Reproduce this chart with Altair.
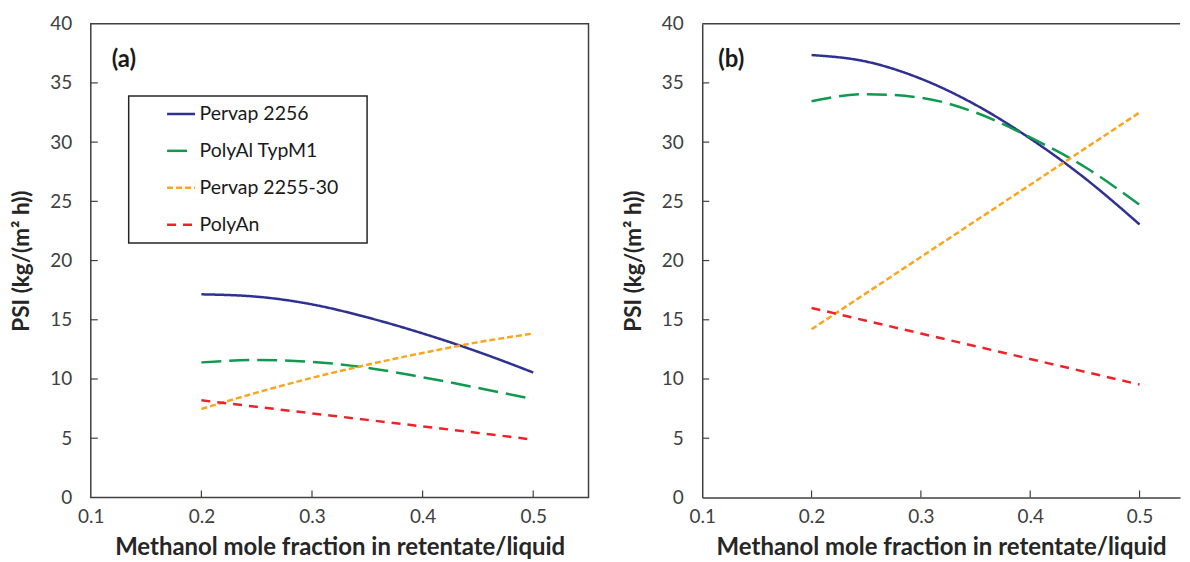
import altair as alt
import pandas as pd

# ---------------- data ----------------
x_vals = [0.2, 0.25, 0.3, 0.35, 0.4, 0.45, 0.5]
series = ["Pervap 2256", "PolyAl TypM1", "Pervap 2255-30", "PolyAn"]

a_pervap2256 = [17.15, 16.95, 16.3, 15.2, 13.85, 12.3, 10.55]
a_polyal = [11.4, 11.6, 11.45, 10.95, 10.15, 9.25, 8.3]
a_pervap225530 = [7.47, 8.85, 10.1, 11.2, 12.2, 13.1, 13.84]
a_polyan = [8.2, 7.65, 7.1, 6.55, 6.0, 5.45, 4.88]

b_pervap2256 = [37.35, 36.8, 35.35, 33.15, 30.3, 26.95, 23.05]
b_polyal = [33.45, 34.05, 33.75, 32.5, 30.4, 27.9, 24.7]
b_pervap225530 = [14.2, 17.25, 20.3, 23.35, 26.4, 29.45, 32.5]
b_polyan = [16.0, 14.92, 13.84, 12.77, 11.69, 10.61, 9.53]

x_ticks = [0.1, 0.2, 0.3, 0.4, 0.5]
y_ticks = [0, 5, 10, 15, 20, 25, 30, 35, 40]
panel_labels = ["(a)", "(b)"]

colors = ["#2E3192", "#0F9A4F", "#FBA51E", "#EE2229"]
dashes = [[1, 0], [20, 8], [6, 3], [9, 7]]

x_title = "Methanol mole fraction in retentate/liquid"
y_title = "PSI (kg/(m\u00b2 h))"

W_A, W_B, H = 499, 479, 475
FONT = "Lato"
FRAME = "#404040"


def panel_df(vals):
    rows = []
    for name, ys in zip(series, vals):
        for xv, yv in zip(x_vals, ys):
            rows.append({"series": name, "x": xv, "y": yv})
    return pd.DataFrame(rows)


df_a = panel_df([a_pervap2256, a_polyal, a_pervap225530, a_polyan])
df_b = panel_df([b_pervap2256, b_polyal, b_pervap225530, b_polyan])

xtick_df = pd.DataFrame({"x": x_ticks[1:]})
ytick_df = pd.DataFrame({"y": y_ticks[1:-1]})
one_df = pd.DataFrame({"k": [0]})


def make_panel(df, label, width, xmax, show_legend, label_x, framed):
    xenc = alt.X(
        "x:Q",
        scale=alt.Scale(domain=[0.1, xmax], nice=False, zero=False),
        axis=alt.Axis(values=x_ticks, format=".1f", ticks=False, tickSize=0,
                      grid=False, domain=not framed, domainColor=FRAME,
                      domainWidth=1.5, labelPadding=10, labelFlush=False,
                      title=x_title, titlePadding=9, titleFontSize=24),
    )
    yenc = alt.Y(
        "y:Q",
        scale=alt.Scale(domain=[0, 40], nice=False),
        axis=alt.Axis(values=y_ticks, ticks=False, tickSize=0, grid=False,
                      domain=not framed, domainColor=FRAME, domainWidth=1.5,
                      labelPadding=19, title=y_title, titlePadding=16,
                      titleFontSize=22.5),
    )
    if show_legend:
        leg = alt.Legend(
            orient="none", legendX=75, legendY=75, title=None,
            symbolType="stroke", symbolSize=784, symbolStrokeWidth=2.5,
            labelFont=FONT, labelFontSize=19.5, labelColor="#1a1a1a",
            labelOffset=3, rowPadding=12, padding=0, symbolOffset=0,
        )
    else:
        leg = None
    color = alt.Color("series:N", scale=alt.Scale(domain=series, range=colors),
                      legend=leg, sort=series)
    dash = alt.StrokeDash("series:N", scale=alt.Scale(domain=series, range=dashes),
                          legend=leg, sort=series)

    layers = []
    if show_legend:
        box = alt.Chart(one_df).mark_rect(
            fill="white", stroke="#262626", strokeWidth=1.5
        ).encode(x=alt.value(38), x2=alt.value(277), y=alt.value(72.5), y2=alt.value(220))
        layers.append(box)

    lines = alt.Chart(df).mark_line(interpolate="monotone", strokeWidth=2.5).encode(
        x=xenc, y=yenc, color=color, strokeDash=dash
    )
    xt = alt.Chart(xtick_df).mark_rule(color=FRAME, strokeWidth=1.2).encode(
        x="x:Q", y=alt.value(H), y2=alt.value(H - 7)
    )
    yt = alt.Chart(ytick_df).mark_rule(color=FRAME, strokeWidth=1.2).encode(
        y="y:Q", x=alt.value(0), x2=alt.value(7)
    )
    txt = alt.Chart(pd.DataFrame({"label": [label]})).mark_text(
        font=FONT, fontSize=24, fontWeight="bold", align="left",
        baseline="middle", color="#1a1a1a"
    ).encode(x=alt.value(label_x), y=alt.value(36), text="label:N")
    layers += [lines, xt, yt, txt]
    if not framed:
        top = alt.Chart(one_df).mark_rule(color=FRAME, strokeWidth=1.5).encode(
            x=alt.value(0), x2=alt.value(width), y=alt.value(0)
        )
        layers.append(top)
    ch = alt.layer(*layers).properties(width=width, height=H)
    if not framed:
        ch = ch.properties(view=alt.ViewBackground(stroke="transparent"))
    return ch


pa = make_panel(df_a, panel_labels[0], W_A, 0.55, True, 21, True)
pb = make_panel(df_b, panel_labels[1], W_B, 0.537, False, 16, False)

chart = (
    alt.hconcat(pa, pb, spacing=32)
    .resolve_scale(color="independent", strokeDash="independent")
    .resolve_legend(color="independent", strokeDash="independent")
    .properties(padding={"left": 2, "top": 5, "right": 0, "bottom": 0})
    .configure_view(stroke=FRAME, strokeWidth=1.5)
    .configure_axis(
        labelFont=FONT, labelFontSize=19, labelColor="#404040",
        titleFont=FONT, titleFontWeight="bold", titleColor="#262626",
    )
)

chart.save("out.html", embed_options={"renderer": "svg", "actions": False})
